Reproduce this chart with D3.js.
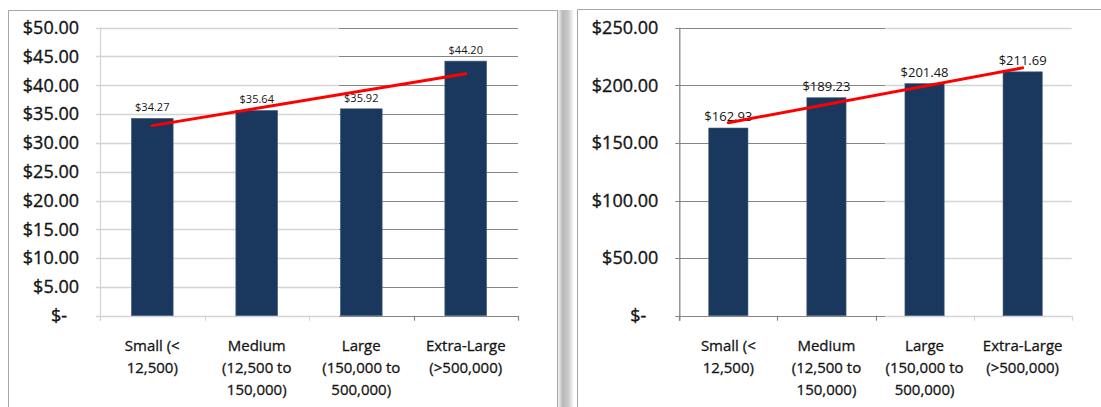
<!DOCTYPE html>
<html>
<head>
<meta charset="utf-8">
<script src="https://cdn.jsdelivr.net/npm/d3@7"></script>
<style>
  html, body { margin: 0; padding: 0; background: #fff; }
  svg { display: block; font-family: "Open Sans", "Liberation Sans", Arial, sans-serif; }
</style>
</head>
<body>
<svg id="chart" width="1101" height="407"></svg>
<script>
// ---------- data ----------
const categories = ["Small", "Medium", "Large", "Extra-Large"];
const categoryLabels = [
  ["Small (<", "12,500)"],
  ["Medium", "(12,500 to", "150,000)"],
  ["Large", "(150,000 to", "500,000)"],
  ["Extra-Large", "(>500,000)"]
];
const leftValues = [34.27, 35.64, 35.92, 44.20];
const rightValues = [162.93, 189.23, 201.48, 211.69];
const leftTicks = [0, 5, 10, 15, 20, 25, 30, 35, 40, 45, 50];
const rightTicks = [0, 50, 100, 150, 200, 250];

// ---------- drawing ----------
const FONT = "'Open Sans', 'Liberation Sans', Arial, sans-serif";
const TEXT = "#151515";
const svg = d3.select("#chart");
const defs = svg.append("defs");

// panel frames and shadow
const shadow = defs.append("linearGradient").attr("id", "shadow")
  .attr("x1", "0%").attr("x2", "100%").attr("y1", "0%").attr("y2", "0%");
shadow.append("stop").attr("offset", "0%").attr("stop-color", "#f4f4f4");
shadow.append("stop").attr("offset", "30%").attr("stop-color", "#b8b8b8");
shadow.append("stop").attr("offset", "65%").attr("stop-color", "#cacaca");
shadow.append("stop").attr("offset", "100%").attr("stop-color", "#ffffff");
svg.append("rect").attr("x", 558).attr("y", 10).attr("width", 16).attr("height", 397)
  .attr("fill", "url(#shadow)");

svg.append("path").attr("d", "M8.5,407 V10.5 H557.5 V407")
  .attr("fill", "none").attr("stroke", "#a6a6a6").attr("stroke-width", 1);
svg.append("path").attr("d", "M577.5,407 V9.5 H1101")
  .attr("fill", "none").attr("stroke", "#a6a6a6").attr("stroke-width", 1);

const fmt = d3.format(",.2f");
const LIGHT = "#d4d4d4", DARK = "#858585";

function drawChart(opts) {
  const { values, ticks, maxV, x0, x1, yTop, yBottom, split, leftLight, labelSize } = opts;

  const x = d3.scaleBand().domain(categories).range([x0, x1])
    .paddingInner(0.6).paddingOuter(0.3);
  const y = d3.scaleLinear().domain([0, maxV]).range([yBottom, yTop]);
  const cLeft = leftLight ? LIGHT : DARK, cRight = leftLight ? DARK : LIGHT;

  const root = svg.append("g");

  // grid lines in two segments (left / right of the split)
  const segs = [[x0 - 4, split, cLeft], [split, x1, cRight]];
  ticks.forEach(t => {
    const yy = Math.round(y(t)) + 0.5;
    segs.forEach(s => {
      root.append("line").attr("x1", s[0]).attr("x2", s[1])
        .attr("y1", yy).attr("y2", yy)
        .attr("stroke", s[2]).attr("stroke-width", s[2] === LIGHT ? 1.6 : 1.1);
    });
  });

  // y axis labels
  const yAxis = d3.axisLeft(y).tickValues(ticks).tickSize(0).tickPadding(21)
    .tickFormat(d => d === 0 ? "$-" : "$" + fmt(d));
  const ya = root.append("g").attr("transform", `translate(${x0},0)`).call(yAxis);
  ya.select(".domain").remove();
  ya.selectAll("text").attr("font-size", 18).attr("fill", TEXT)
    .attr("stroke", TEXT).attr("stroke-width", 0.35)
    .attr("font-family", FONT)
    .attr("dx", d => d === 0 ? -12 : 0);
  // y axis line
  root.append("line").attr("x1", x0 + 0.5).attr("x2", x0 + 0.5)
    .attr("y1", yTop).attr("y2", yBottom + 5)
    .attr("stroke", cLeft).attr("stroke-width", 1.3);

  // bars
  root.append("g").selectAll("rect").data(values).join("rect")
    .attr("x", (d, i) => x(categories[i]))
    .attr("width", x.bandwidth())
    .attr("y", d => y(d))
    .attr("height", d => y(0) - y(d))
    .attr("fill", "#1a385d")
    .attr("stroke", "#4a6584").attr("stroke-width", 0.6);

  // category tick marks
  const bounds = categories.map(c => x(c) - x.step() * 0.3).concat([x1]);
  root.append("g").selectAll("line").data(bounds).join("line")
    .attr("x1", d => Math.round(d) + 0.5).attr("x2", d => Math.round(d) + 0.5)
    .attr("y1", y(0)).attr("y2", y(0) + 5)
    .attr("stroke", d => d < split ? cLeft : cRight)
    .attr("stroke-width", 1.2);

  // category labels
  const cl = root.append("g").selectAll("text").data(categoryLabels).join("text")
    .attr("text-anchor", "middle")
    .attr("font-family", FONT)
    .attr("font-size", 15).attr("fill", TEXT)
    .attr("stroke", TEXT).attr("stroke-width", 0.3)
    .attr("x", (d, i) => x(categories[i]) + x.bandwidth() / 2)
    .attr("y", 351);
  cl.selectAll("tspan").data(d => d).join("tspan")
    .attr("x", function () { return d3.select(this.parentNode).attr("x"); })
    .attr("dy", (d, i) => i === 0 ? 0 : 22)
    .text(d => d);

  // data labels
  root.append("g").selectAll("text").data(values).join("text")
    .attr("text-anchor", "middle")
    .attr("font-family", FONT)
    .attr("font-size", labelSize).attr("fill", TEXT)
    .attr("x", (d, i) => x(categories[i]) + x.bandwidth() / 2)
    .attr("y", d => y(d) - 7)
    .text(d => "$" + fmt(d));

  // linear trend line (least squares on category index)
  const n = values.length;
  const xs = values.map((d, i) => i + 1);
  const mx = d3.mean(xs), my = d3.mean(values);
  const slope = d3.sum(xs.map((xi, i) => (xi - mx) * (values[i] - my))) /
                d3.sum(xs.map(xi => (xi - mx) * (xi - mx)));
  const icpt = my - slope * mx;
  const trend = [1, n].map(k => [x(categories[k - 1]) + x.bandwidth() / 2, y(icpt + slope * k)]);
  root.append("path").attr("d", d3.line()(trend))
    .attr("fill", "none").attr("stroke", "#ff0000").attr("stroke-width", 3)
    .attr("stroke-linecap", "round");
}

drawChart({ values: leftValues, ticks: leftTicks, maxV: 50,
  x0: 100, x1: 518, yTop: 27.7, yBottom: 315.7, split: 339, leftLight: true, labelSize: 11 });
drawChart({ values: rightValues, ticks: rightTicks, maxV: 250,
  x0: 679.3, x1: 1071.7, yTop: 27.7, yBottom: 315.7, split: 885, leftLight: false, labelSize: 13 });
</script>
</body>
</html>
